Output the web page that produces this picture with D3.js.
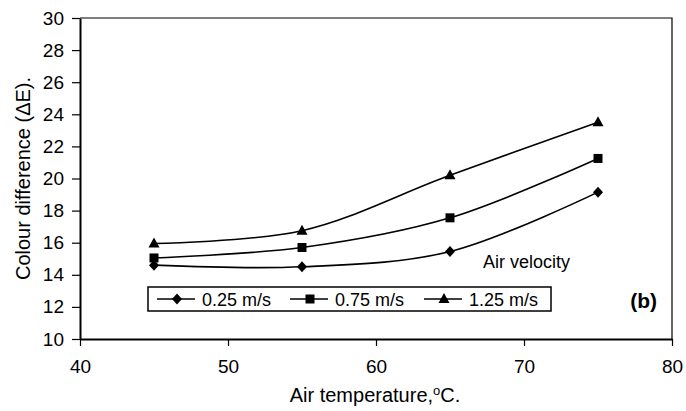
<!DOCTYPE html>
<html>
<head>
<meta charset="utf-8">
<script src="https://cdn.jsdelivr.net/npm/d3@7"></script>
<style>
  body { margin: 0; background: #fff; }
  svg { display: block; font-family: Arial, "Liberation Sans", sans-serif; }
</style>
</head>
<body>
<svg id="chart" width="686" height="411"></svg>
<script>
// ---- data ----
const temperatures = [45, 55, 65, 75];
const velocity025 = [14.6, 14.5, 15.45, 19.15];
const velocity075 = [15.05, 15.7, 17.55, 21.25];
const velocity125 = [15.95, 16.75, 20.2, 23.5];
const seriesNames = ["0.25 m/s", "0.75 m/s", "1.25 m/s"];
const seriesSymbols = ["diamond", "square", "triangle"];
const xTicks = [40, 50, 60, 70, 80];
const yTicks = [10, 12, 14, 16, 18, 20, 22, 24, 26, 28, 30];

const seriesValues = [velocity025, velocity075, velocity125];
const series = seriesNames.map((name, i) => ({
  name, symbol: seriesSymbols[i],
  points: temperatures.map((t, j) => ({ x: t, y: seriesValues[i][j] }))
}));

// ---- layout ----
const svg = d3.select("#chart");
const m = { left: 80, right: 672, top: 18, bottom: 339 };
const x = d3.scaleLinear().domain([40, 80]).range([m.left, m.right]);
const y = d3.scaleLinear().domain([10, 30]).range([m.bottom, m.top]);

// plot frame (top/right)
svg.append("path")
  .attr("d", `M${m.left},${m.top}H${m.right}V${m.bottom}`)
  .attr("fill", "none").attr("stroke", "#000").attr("stroke-width", 1.2);

// axes
const xAxis = svg.append("g").attr("transform", `translate(0,${m.bottom})`)
  .call(d3.axisBottom(x).tickValues(xTicks).tickSize(7).tickPadding(14).tickSizeOuter(0));
const yAxis = svg.append("g").attr("transform", `translate(${m.left},0)`)
  .call(d3.axisLeft(y).tickValues(yTicks).tickSize(8).tickPadding(8).tickSizeOuter(0));
[xAxis, yAxis].forEach(g => {
  g.select(".domain").attr("stroke", "#000").attr("stroke-width", 2);
  g.selectAll(".tick line").attr("stroke", "#000").attr("stroke-width", 1.2);
  g.selectAll(".tick text").attr("fill", "#000")
    .style("font-size", "19px").style("font-family", "Arial, 'Liberation Sans', sans-serif");
});

// axis titles
const xt = svg.append("text")
  .attr("x", (m.left + m.right) / 2 - 1).attr("y", 402)
  .attr("text-anchor", "middle").style("font-size", "20px");
xt.append("tspan").text("Air temperature,");
xt.append("tspan").attr("dy", -7).style("font-size", "13px").text("o");
xt.append("tspan").attr("dy", 7).text("C.");

svg.append("text")
  .attr("transform", `translate(30,${(m.top + m.bottom) / 2}) rotate(-90)`)
  .attr("text-anchor", "middle").style("font-size", "20px")
  .text("Colour difference (\u0394E).");

// symbols
function symPath(s) {
  if (s === "diamond") return "M0,-5.5L5,0L0,5.5L-5,0Z";
  if (s === "square") return "M-4.5,-4.5H4.5V4.5H-4.5Z";
  return "M0,-6L5.5,4L-5.5,4Z";
}

// lines
const line = d3.line().x(d => x(d.x)).y(d => y(d.y)).curve(d3.curveCatmullRom.alpha(0.5));
series.forEach(s => {
  svg.append("path").datum(s.points).attr("d", line)
    .attr("fill", "none").attr("stroke", "#000").attr("stroke-width", 1.6);
  svg.selectAll(null).data(s.points).enter().append("path")
    .attr("d", symPath(s.symbol))
    .attr("transform", d => `translate(${x(d.x)},${y(d.y)})`)
    .attr("fill", "#000");
});

// annotation
svg.append("text").attr("x", 483).attr("y", 268).style("font-size", "18px").text("Air velocity");
svg.append("text").attr("x", 657).attr("y", 308).attr("text-anchor", "end")
  .style("font-size", "21px").style("font-weight", "bold").text("(b)");

// legend
const lg = svg.append("g");
lg.append("rect").attr("x", 148).attr("y", 287).attr("width", 403).attr("height", 24)
  .attr("fill", "#fff").attr("stroke", "#000").attr("stroke-width", 1.5);
const legendStarts = [157, 290, 424];
series.forEach((s, i) => {
  const x0 = legendStarts[i], cy = 299;
  lg.append("line").attr("x1", x0).attr("x2", x0 + 38).attr("y1", cy).attr("y2", cy)
    .attr("stroke", "#000").attr("stroke-width", 1.5);
  lg.append("path").attr("d", symPath(s.symbol))
    .attr("transform", `translate(${x0 + 20},${cy})`).attr("fill", "#000");
  lg.append("text").attr("x", x0 + 45).attr("y", cy + 6.5).style("font-size", "18px").text(s.name);
});
</script>
</body>
</html>
